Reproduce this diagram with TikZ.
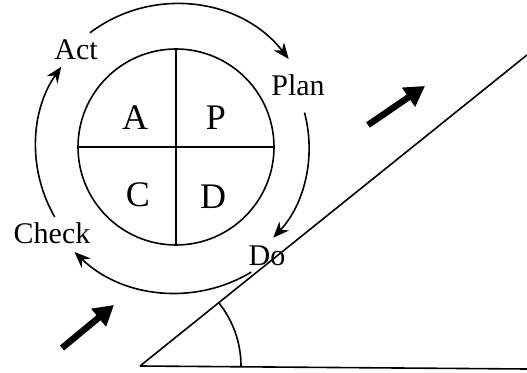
\documentclass[tikz,border=0pt]{standalone}
\usepackage{fontspec}
\setmainfont{Liberation Serif}
\usetikzlibrary{arrows.meta,positioning}
\tikzset{
  wheelblk/.style={draw,circle,line width=1.6pt,minimum size=196pt,inner sep=0pt},
  ltr/.style={font=\fontsize{36}{40}\selectfont,inner sep=0pt},
  lbl/.style={font=\fontsize{30}{36}\selectfont,inner sep=0pt},
  cyc/.style={-{Stealth[length=16pt,width=13pt]},line width=1.6pt},
  bigarr/.style={-{Triangle[length=20pt,width=22pt]},line width=6.5pt},
  ln/.style={line width=1.6pt}
}

\begin{document}
\begin{tikzpicture}[x=1pt,y=1pt]
  \useasboundingbox (0,0) rectangle (527,372);

  % PDCA wheel
  \node[wheelblk] (wheel) at (176,225) {};
  \draw[ln] (wheel.north) -- (wheel.south);
  \draw[ln] (wheel.west) -- (wheel.east);
  \node[ltr] (qa) at (135,254) {A};
  \node[ltr] (qp) at (216,254) {P};
  \node[ltr] (qc) at (138,177) {C};
  \node[ltr] (qd) at (213,175) {D};

  \node[lbl] (act) at (76,322) {Act};
  \node[lbl] (plan) at (298,287) {Plan};
  \node[lbl] (check) at (52,139) {Check};
  \node[lbl] (do) at (267,116) {Do};

  % cycle arrows
  \draw[cyc] ([shift={(127:143)}]wheel.center) arc[start angle=127,end angle=38,radius=143];
  \draw[cyc] ([shift={(15:133)}]wheel.center) arc[start angle=15,end angle=-43,radius=133];
  \draw[cyc] ([shift={(-59:146)}]wheel.center) arc[start angle=-59,end angle=-134,radius=146];
  \draw[cyc] ([shift={(210:140)}]wheel.center) arc[start angle=210,end angle=145,radius=140];

  % slope
  \coordinate (foot) at (140,6);
  \coordinate (top) at (527,317);
  \coordinate (base) at (527,3);
  \draw[ln] (foot) -- (top);
  \draw[ln] (foot) -- (base);
  \draw[ln] ([shift={(0:101)}]foot) arc[start angle=0,end angle=39,radius=101];

  % push arrows
  \coordinate (p1s) at (62,24);
  \coordinate (p1e) at (114,67);
  \coordinate (p2s) at (368,247);
  \coordinate (p2e) at (425,286);
  \draw[bigarr] (p1s) -- (p1e);
  \draw[bigarr] (p2s) -- (p2e);
\end{tikzpicture}
\end{document}
